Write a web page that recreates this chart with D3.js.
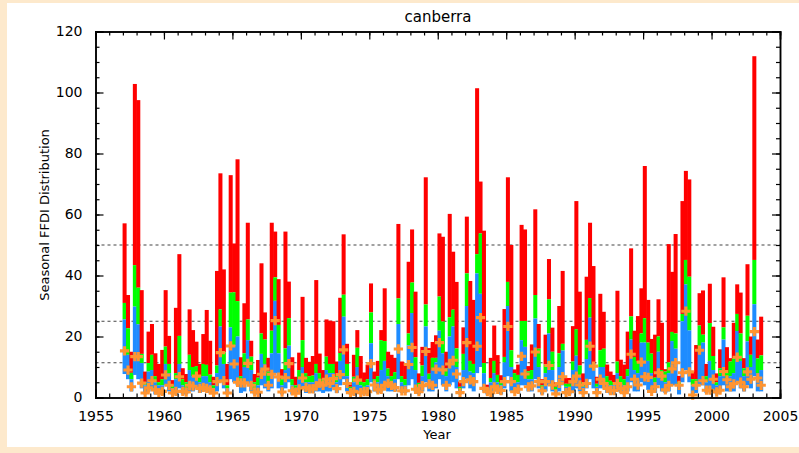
<!DOCTYPE html>
<html>
<head>
<meta charset="utf-8">
<script src="https://cdn.jsdelivr.net/npm/d3@7"></script>
<style>
  html, body { margin: 0; padding: 0; background: #fde9cc; }
  svg { display: block; }
  text { font-family: "DejaVu Sans", sans-serif; fill: #000; }
</style>
</head>
<body>
<svg id="chart" width="799" height="453"></svg>
<script>
// seasons run from 1957 (4 per year)
const firstYear = 1957;
const seasonMax = [57.1,33.6,15,102.8,97.5,35.2,8.5,21.6,24.1,14.5,11,15.6,35.2,20.2,5.7,29.4,47,9.6,7.7,28.9,
  22.1,18.3,11,20.8,28.7,18.6,6.8,41.5,73.5,42,11,72.9,50.5,78.1,13.2,30.9,57.3,18.6,7.7,12.3,
  44,27.9,13,57.3,54.4,38.8,9.3,54.4,38,13.2,6.8,14.7,33,13,11.7,13.6,38.5,14.4,9,25.6,
  25.2,25,11.8,32.7,53.5,17.6,5,14,22.1,13.6,8.2,10.8,37.4,8.5,12,22.1,35.8,15,14,13,
  56.9,11.8,10.5,44.5,55.1,34.7,7.9,16.6,72.2,16.2,18.2,20.4,53.8,52.7,15,60.2,47.8,37.9,5.2,23,
  59.3,38.2,32,101.4,70.8,54.7,4.2,13,23.6,13.9,7.3,29,72.2,50,9.2,10.8,56.6,55.1,10.3,17.4,
  61.7,24.1,6,20.6,45.4,22.9,5,30,41.5,6.4,6.4,23.4,64.4,34.7,7.9,39.6,57.3,43.1,6.8,34,
  28.1,10.8,8.5,7.4,35,12.4,10.8,21.6,48.9,21.9,26.7,35.8,75.9,32,19.2,20.6,32.2,24.5,9.3,50.3,
  41.2,53.6,7.1,64.4,74.3,71.5,8.4,17.2,34.2,35.1,11,37.3,23.2,7.9,15.8,39.4,16.5,12.9,24.5,37.1,
  34.4,12.9,43.7,20,111.9,19,26.5];
const seasonP90 = [31,22.7,8.1,43.4,36,14.3,5,11.3,14,7,5,6,16.7,11,4,8,20.2,6,5,14,
  10,10.3,7,11,10.7,7.5,4,10.5,28.9,14.8,4,34.4,34.5,31.6,7,14.5,25.6,13.4,5,6.5,
  21,19,8.5,21.9,39.4,23.8,6,16.1,26,6,4,9,18.8,8,7,7.2,11,8,6,13.4,
  11,11,7,14.6,33.7,11,3.5,6.8,16.3,6,5,6,27.9,6,7,18.8,18.5,9.5,7,8.3,
  32.5,7,6,21,37.7,13.2,4.8,10.5,30.5,7.8,13,13,33.1,24.9,9.5,26.3,28.8,16.1,3.5,14.3,
  40.7,12,11,47,53.8,11.3,3,6.4,12,7.4,5,13.3,37.9,15.5,8,7.4,25.1,25.1,8.6,9,
  33.6,16,4,10.8,32.2,15,3.5,14.5,17.6,4.5,4.5,11.8,22.4,10.5,5,18.9,32.6,11,4.5,15.5,
  16,7,5.5,5,11.8,7,6,9.3,26.6,13.3,11.8,21,26,18,14.4,6.5,20,9,8.5,11.5,
  21.5,21,5,27.4,45.1,39.6,6,6,23.6,20.6,7,24.4,13.6,5,9.6,23,8,11.8,12.8,27.4,
  21,9.6,26.8,14,45.1,12.8,13.8];
const seasonP75 = [25.6,14,6,29.8,24,11.3,4,8.5,9,5,4,4,11,8,3,6,11,4,3,9,
  7,7,5,7,7,5,3,8,23.3,11,3,23,17,20,5,10,18.8,9,3,4,
  14.3,11,5,14.5,31.7,14.5,4,9,17,4,3,6,10,5,5,5,8,6,4,9,
  8,8,5,12,26.5,7,2.5,5,10,4,3.5,4,17.8,5,5,9,12,7,5,6,
  24.1,5,4,17.1,27.7,9,3.5,7,23.3,6,9,11.5,21.9,14.5,7,20,23.3,10,2.5,9,
  30,8.5,8,40.7,34,8,2,5,8,5,4,11.5,30,10,5,5,18.8,16.6,6,6,
  25.9,10,3,8,21,9,2.5,10,15.4,3.5,3.5,9,13.7,7,3.5,12.6,26.2,9.5,3.5,10,
  10,5,4,4,8,5,4,7,19,9,8,18,18,12,8,5,15,6,5,8,
  18.5,16,4,25,37.1,22,4,4.5,15,18,5,12,9,4,7,19,6,7,8,21.8,
  12,7,18.4,10,30.6,8,9];
const seasonMin = [7.7,6,2,7.4,6,3,1,2,3,1,1,1,4,2,1,1,3,1,1,2,
  2,3,1.5,2,2,1.5,1,2,5,3,1,6,5,4,1.5,2,5,2,1,1,
  4,3,2,3,8,3,1,3,5,1,1,1.5,3,1.5,1.5,1.5,2,2,1.5,2,
  2,3,1.5,4,6,2,1,1,2,1,1,1,5,2,1.5,2,3,2,2,2,
  6,1.5,1.5,4,6,2,1,2,5,2,2,3,6,4,2,4,5,3,1,3,
  6,3,2,8,10,2,1,1,2,2,1,3,7,2,1.5,1.5,4,4,2,2,
  6,3,1,2,4,2,1,2,4,1,1,2,3,2,1,3,6,3,1,3,
  3,1.5,1,1,2,1.5,1,2,5,2,2,5,4,2.5,1.5,1.5,4,2,1.5,2,
  4,4,1,5,9,5,1,1.5,4,4,1.5,2,2,1,2,4,2,2,2,5,
  3,2,4,3,7,2,2];
const seasonMedian = [15.3,9,3.5,13.4,13.4,4.7,1.5,3.2,5.5,2.5,1.5,2,7.4,4,1.5,2,6.8,2,1.8,4,
  3.7,7,3,3.3,3,2.5,1.5,5.2,14.7,5.5,1.5,16.9,11,5,4.8,4.8,11.2,4,1.8,1.7,
  7.6,9.3,4,7.6,25.2,6.7,1.8,6.5,11.1,2.2,1.4,2.8,6.4,3.3,2.8,2.8,3.8,4.7,4,6,
  4.6,6.2,2.9,7.5,15.6,4.6,1.6,2,5.7,1.6,1.9,1.9,11.1,4.1,2.5,2.7,4,4.6,4,3.3,
  15.9,2.2,2.2,10.8,16.4,2.7,1.9,3.9,15.1,4.4,4,9.3,18,9,4,11,12.2,7.7,1.6,5.2,
  18,5.8,5.2,16.8,26.2,3,1.9,1.6,3.5,2.7,2.3,5.2,23.3,5.2,1.9,2.7,13.5,7.7,3.5,3.8,
  14.9,5.2,2.2,5.2,10.5,4.1,1.2,4.6,6.8,1.6,1.9,5.2,7,4.1,1.6,4.6,16.8,10.3,1.6,6,
  4.6,3,2.3,2.3,4.6,3,1.6,3.5,14.2,6,4.1,11.6,6.8,6.6,2,3.5,8.1,7,2.5,4,
  9.4,11.4,4,8.1,28.3,8.4,0.8,4,15.5,5.5,2.4,2.4,6,1.8,2.4,8.5,5.8,3.5,4.5,13.2,
  5,3.5,8.4,6,21.6,6.4,4];

const refLevels = [50, 25, 11.4];
const xTicks = [1955, 1960, 1965, 1970, 1975, 1980, 1985, 1990, 1995, 2000, 2005];
const yTicks = [0, 20, 40, 60, 80, 100, 120];

const svg = d3.select('#chart');
const plotLeft = 95.5, plotRight = 780, plotTop = 31.5, plotBottom = 397.5;

// white panel on the cream page
svg.append('rect').attr('x', 7).attr('y', 3).attr('width', 792).attr('height', 444).attr('fill', '#fff');

const x = d3.scaleLinear().domain([1955, 2005]).range([plotLeft, plotRight]);
const y = d3.scaleLinear().domain([0, 120]).range([plotBottom, plotTop]);
const bw = x(1955.25) - x(1955);

let seasons = seasonMax.map(function (m, i) {
    return {
        t: firstYear + i / 4,
        max: m,
        p90: seasonP90[i],
        p75: seasonP75[i],
        min: seasonMin[i],
        med: seasonMedian[i]
    };
});

let plot = svg.append('g');

// reference lines
plot.selectAll('.ref').data(refLevels).enter().append('line')
    .attr('x1', plotLeft).attr('x2', plotRight)
    .attr('y1', d => y(d)).attr('y2', d => y(d))
    .attr('stroke', '#444').attr('stroke-width', 1.2).attr('stroke-dasharray', '3,3');

let bars = plot.selectAll('.season').data(seasons).enter().append('g');
bars.append('rect')
    .attr('x', d => x(d.t) - 0.3).attr('width', bw + 0.6)
    .attr('y', d => y(d.max)).attr('height', d => y(d.p90) - y(d.max))
    .attr('fill', '#ff0000');
bars.append('rect')
    .attr('x', d => x(d.t) - 0.3).attr('width', bw + 0.6)
    .attr('y', d => y(d.p90)).attr('height', d => y(d.p75) - y(d.p90))
    .attr('fill', '#00ff00');
bars.append('rect')
    .attr('x', d => x(d.t) - 0.3).attr('width', bw + 0.6)
    .attr('y', d => y(d.p75)).attr('height', d => y(d.min) - y(d.p75))
    .attr('fill', '#1e8cff');

// median crosses
let cross = d3.symbol().type(d3.symbolCross).size(48);
plot.selectAll('.med').data(seasons).enter().append('path')
    .attr('d', cross)
    .attr('transform', d => 'translate(' + (x(d.t) + bw / 2) + ',' + y(d.med) + ')')
    .attr('fill', '#ff9430');

// axes: ticks inward on all four sides
let axisG = svg.append('g');
axisG.append('g').attr('transform', 'translate(0,' + plotBottom + ')')
    .call(d3.axisBottom(x).tickValues(d3.range(1955, 2006, 1)).tickSize(-4).tickFormat(''));
axisG.append('g').attr('transform', 'translate(0,' + plotBottom + ')')
    .call(d3.axisBottom(x).tickValues(xTicks).tickSize(-8).tickPadding(14).tickFormat(d3.format('d')));
axisG.append('g').attr('transform', 'translate(0,' + plotTop + ')')
    .call(d3.axisTop(x).tickValues(d3.range(1955, 2006, 1)).tickSize(-4).tickFormat(''));
axisG.append('g').attr('transform', 'translate(0,' + plotTop + ')')
    .call(d3.axisTop(x).tickValues(xTicks).tickSize(-8).tickFormat(''));
axisG.append('g').attr('transform', 'translate(' + plotLeft + ',0)')
    .call(d3.axisLeft(y).tickValues(d3.range(0, 121, 5)).tickSize(-4).tickFormat(''));
axisG.append('g').attr('transform', 'translate(' + plotLeft + ',0)')
    .call(d3.axisLeft(y).tickValues(yTicks).tickSize(-8).tickPadding(13).tickFormat(d3.format('d')));
axisG.append('g').attr('transform', 'translate(' + plotRight + ',0)')
    .call(d3.axisRight(y).tickValues(d3.range(0, 121, 5)).tickSize(-4).tickFormat(''));
axisG.append('g').attr('transform', 'translate(' + plotRight + ',0)')
    .call(d3.axisRight(y).tickValues(yTicks).tickSize(-8).tickFormat(''));

axisG.selectAll('.domain').attr('stroke', '#000').attr('stroke-width', 1.5);
axisG.selectAll('.tick line').attr('stroke', '#000').attr('stroke-width', 1.2);
axisG.selectAll('.tick text').style('font-size', '14px').style('font-family', '"DejaVu Sans", sans-serif').attr('fill', '#000');

svg.append('text').attr('x', 438).attr('y', 22).attr('text-anchor', 'middle')
    .style('font-size', '15px').text('canberra');
svg.append('text').attr('x', 437).attr('y', 439).attr('text-anchor', 'middle')
    .style('font-size', '13px').text('Year');
svg.append('text').attr('transform', 'translate(49,215) rotate(-90)').attr('text-anchor', 'middle')
    .style('font-size', '13px').text('Seasonal FFDI Distribution');
</script>
</body>
</html>
